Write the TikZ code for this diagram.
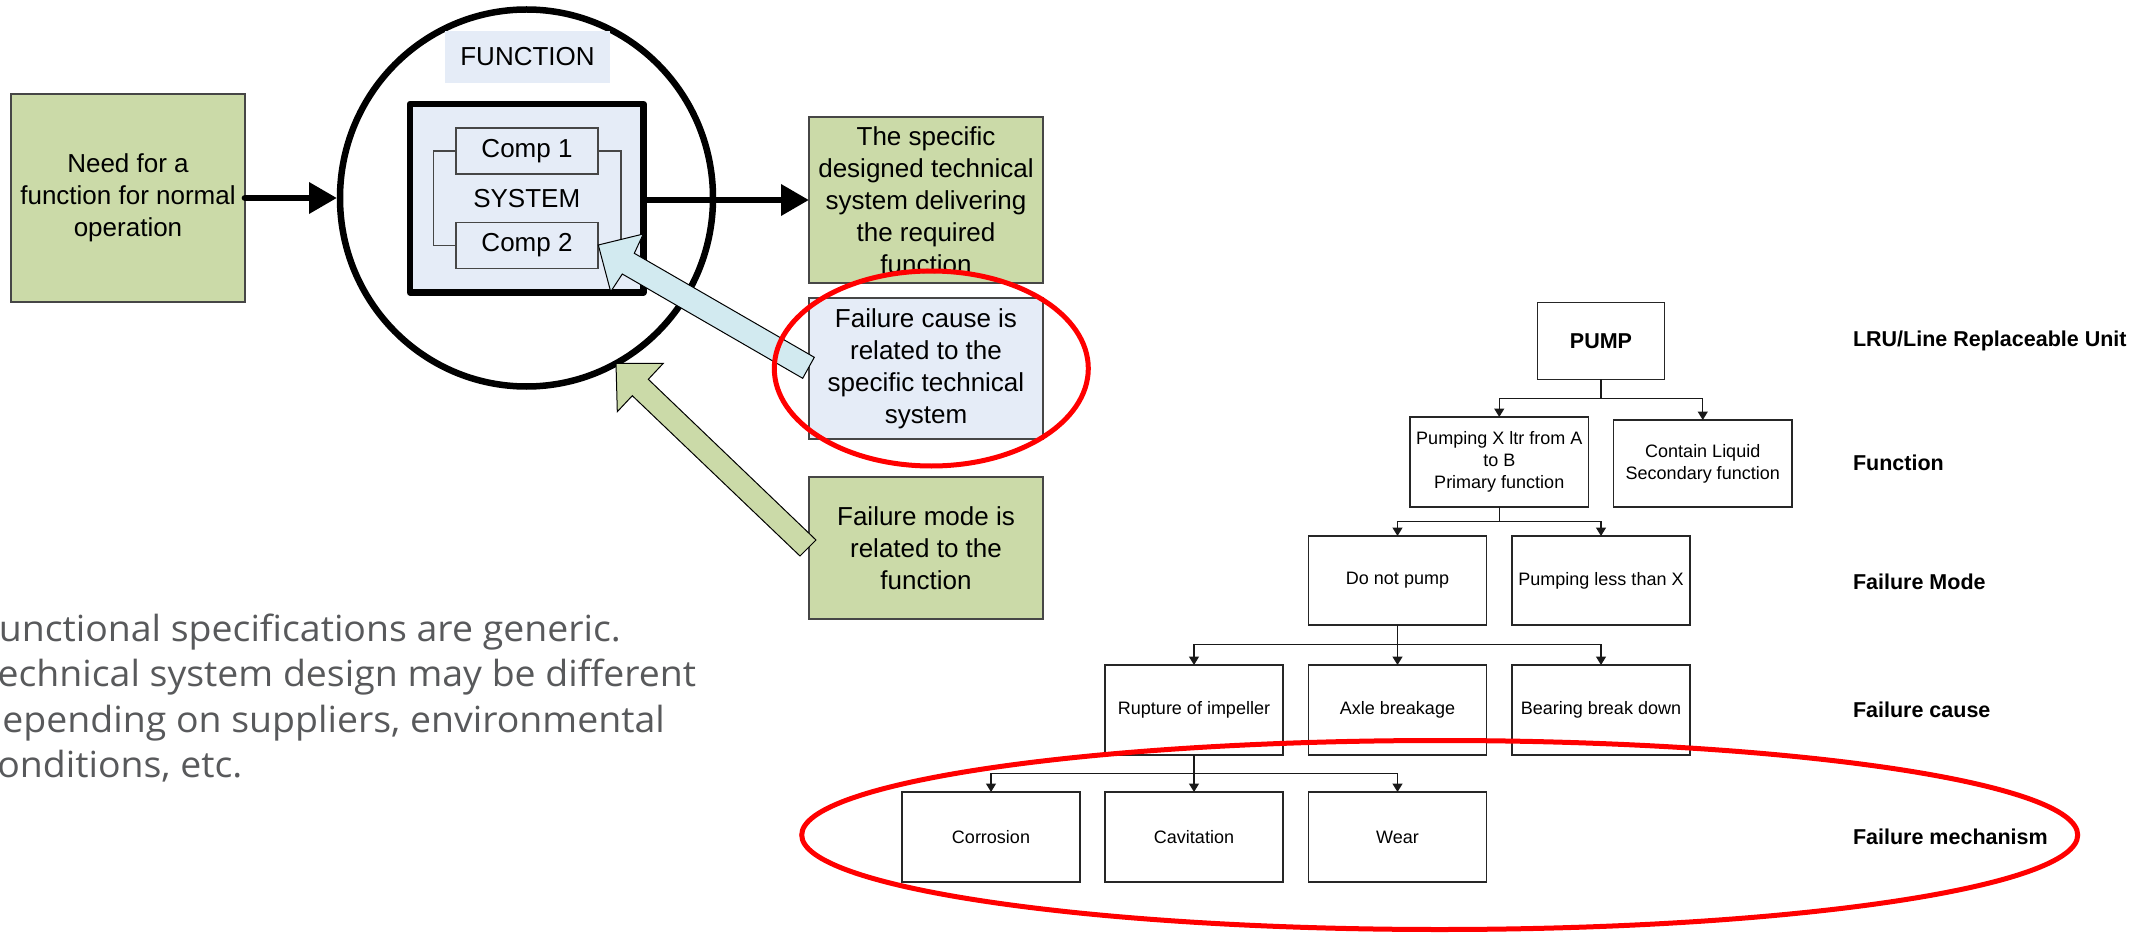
\documentclass[tikz,border=0pt]{standalone}
\usepackage{fontspec}
\setmainfont{Liberation Sans}
\newfontfamily\notefont[FakeStretch=1.04]{Open Sans}
\usetikzlibrary{arrows.meta,shapes.geometric}

\definecolor{leaf}{RGB}{203,218,168}
\definecolor{mist}{RGB}{229,236,247}
\definecolor{ice}{RGB}{210,234,240}
\definecolor{edge}{RGB}{70,70,70}
\definecolor{note}{RGB}{88,89,91}

\begin{document}
\begin{tikzpicture}[x=1pt,y=-1pt,
  every node/.style={inner sep=0pt, outer sep=0pt},
  big/.style={font=\fontsize{26}{32}\selectfont, align=center},
  leafbox/.style={big, draw=edge, line width=1.5pt, fill=leaf, minimum width=234pt},
  mistbox/.style={big, draw=edge, line width=1.5pt, fill=mist, minimum width=234pt},
  compbox/.style={big, draw=edge, line width=1.2pt, fill=mist, minimum width=142pt, minimum height=46pt},
  tbox/.style={draw=black!85, line width=1.5pt, fill=white, minimum width=178pt, minimum height=89pt, align=center, font=\fontsize{18}{21.7}\selectfont},
  level/.style={anchor=west, font=\bfseries\fontsize{21.5}{26}\selectfont},
  tline/.style={line width=1.4pt, draw=black!90},
  tarrow/.style={tline, -{Triangle[length=8.5pt,width=10pt]}},
  fat/.style={line width=6.7pt, -{Triangle[length=28pt,width=30pt]}},
  ring/.style={draw=red, line width=5pt},
  block/.style={draw=black, line width=1pt, line join=miter},
  bracket/.style={draw=edge, line width=1.2pt},
  notetext/.style={anchor=base west, text=note, font=\notefont\fontsize{36}{45.5}\selectfont}
]
\useasboundingbox (0,0) rectangle (2149,933);
\clip (0,0) rectangle (2149,933);

% ---- function circle with the system inside ----
\node[ellipse, draw, line width=6.5pt, minimum width=373pt, minimum height=377pt] (func) at (526.5,198) {};
\node[big, fill=mist, minimum width=165pt, minimum height=52pt] (fn) at (527.5,57) {FUNCTION};
\node[big, draw=black, line width=6.5pt, line join=round, fill=mist, minimum width=233.5pt, minimum height=188.5pt] (sys) at (526.75,198.25) {SYSTEM};
\node[compbox] (c1) at (527,151) {Comp 1};
\node[compbox] (c2) at (527,245.5) {Comp 2};
\draw[bracket] (c1.west) -- ++(-22.5,0) |- (c2.west);
\draw[bracket] (c1.east) -- ++(23,0) |- (c2.east);

% ---- boxes around the circle ----
\node[leafbox, minimum height=208pt] (need) at (128,198) {Need for a\\function for normal\\operation};
\node[leafbox, minimum height=166pt] (spec) at (926,200) {The specific\\designed technical\\system delivering\\the required\\function};
\node[mistbox, minimum height=141pt] (cause) at (926,368.5) {Failure cause is\\related to the\\specific technical\\system};
\node[leafbox, minimum height=142pt] (mode) at (926,548) {Failure mode is\\related to the\\function};

\draw[fat, line cap=round, shorten >=3pt] (need.east) -- (func.west);
\draw[fat] (sys.east |- spec.west) -- (spec.west);

% ---- block arrows pointing into the circle ----
\filldraw[block, fill=ice] (598.3,245) -- (643.3,234) -- (634.3,253.3) -- (814.3,357.3) -- (802.7,378.3) -- (622.3,274) -- (610.7,291.7) -- cycle;
\filldraw[block, fill=leaf] (616,363.3) -- (663.3,363.3) -- (648.3,379.3) -- (816,540) -- (800,556) -- (632.3,395.7) -- (617.3,411.7) -- cycle;

\draw[ring] (931.3,368.5) ellipse [x radius=157pt, y radius=97.5pt];

% ---- note text (runs off the left edge) ----
\node[notetext] (n1) at (-20.5,641) {Functional specifications are generic.};
\node[notetext] (n2) at (-20.5,686.7) {Technical system design may be different};
\node[notetext] (n3) at (-20.5,732.3) {depending on suppliers, environmental};
\node[notetext] (n4) at (-20.5,777.7) {conditions, etc.};

% ---- pump breakdown tree ----
\node[tbox, minimum width=127pt, minimum height=76.6pt, font=\bfseries\fontsize{21.5}{26}\selectfont] (pump) at (1601,341) {PUMP};
\node[tbox, minimum width=178.5pt, minimum height=90pt] (prim) at (1499.25,462) {Pumping X ltr from A\\to B\\Primary function};
\node[tbox, minimum width=178.5pt, minimum height=87pt] (cont) at (1702.75,463.5) {Contain Liquid\\Secondary function};
\node[tbox] (dnp) at (1397.5,580.5) {Do not pump};
\node[tbox] (less) at (1601,580.5) {Pumping less than X};
\node[tbox, minimum height=90pt] (rup) at (1194,710) {Rupture of impeller};
\node[tbox, minimum height=90pt] (axle) at (1397.5,710) {Axle breakage};
\node[tbox, minimum height=90pt] (bear) at (1601,710) {Bearing break down};
\node[tbox, minimum height=90pt] (corr) at (991,837) {Corrosion};
\node[tbox, minimum height=90pt] (cav) at (1194,837) {Cavitation};
\node[tbox, minimum height=90pt] (wear) at (1397.5,837) {Wear};

\coordinate (j1) at (1601,398.3);
\coordinate (j2) at (1499.25,521.7);
\coordinate (j3) at (1397.5,644.3);
\coordinate (j4) at (1194,773.3);

\draw[tline] (pump.south) -- (j1);
\draw[tarrow] (j1) -| (prim.north);
\draw[tarrow] (j1) -| (cont.north);
\draw[tline] (prim.south) -- (j2);
\draw[tarrow] (j2) -| (dnp.north);
\draw[tarrow] (j2) -| (less.north);
\draw[tline] (dnp.south) -- (j3);
\draw[tarrow] (j3) -| (rup.north);
\draw[tarrow] (j3) -- (axle.north);
\draw[tarrow] (j3) -| (bear.north);
\draw[tline] (rup.south) -- (j4);
\draw[tarrow] (j4) -| (corr.north);
\draw[tarrow] (j4) -- (cav.north);
\draw[tarrow] (j4) -| (wear.north);

\node[level] (lru) at (1853,341) {LRU/Line Replaceable Unit};
\node[level] (lfun) at (1853,462.7) {Function};
\node[level] (lmode) at (1853,581.7) {Failure Mode};
\node[level] (lcause) at (1853,710) {Failure cause};
\node[level] (lmech) at (1853,836.7) {Failure mechanism};

\draw[ring] (1439.7,835) ellipse [x radius=638pt, y radius=94.5pt];
\end{tikzpicture}
\end{document}
